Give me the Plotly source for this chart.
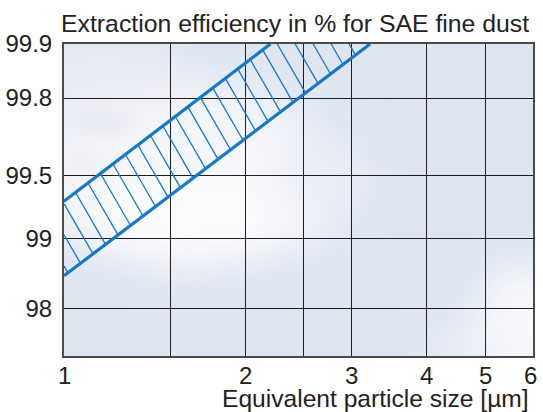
import base64
from statistics import NormalDist
import numpy as np
import plotly.graph_objects as go

# Efficiency band for SAE fine dust (particle size in µm, efficiency in %)
upper_size = [1.0, 2.2]
upper_eff = [99.33, 99.9]
lower_size = [1.0, 3.22]
lower_eff = [98.54, 99.9]

eff_ticks = [98, 99, 99.5, 99.8, 99.9]
eff_range = [96.9, 99.9]
size_grid = [1, 1.5, 2, 2.5, 3, 4, 5, 6]
size_ticks = [1, 2, 3, 4, 5, 6]

BLUE = "#1878c4"
FONT = "Liberation Sans, Arial, sans-serif"
W, H = 543, 412
M = dict(l=64, r=10, t=44, b=56)

nd = NormalDist()


def probit(p):
    """Probability-paper transform of efficiencies given in percent."""
    return np.array([nd.inv_cdf(v / 100.0) for v in np.atleast_1d(p)])


z_lo, z_hi = probit(eff_range)

# Hatching: lines at a fixed screen angle spanning the band
plot_w = W - M["l"] - M["r"]
plot_h = H - M["t"] - M["b"]
px_u = plot_w / np.log10(size_grid[-1])
px_z = plot_h / (z_hi - z_lo)
theta = np.radians(60)
du, dz = -np.cos(theta) / px_u, np.sin(theta) / px_z

uL = np.log10(lower_size)
zL = probit(lower_eff)
uU = np.log10(upper_size)
zU = probit(upper_eff)
mL = (zL[1] - zL[0]) / (uL[1] - uL[0])
mU = (zU[1] - zU[0]) / (uU[1] - uU[0])

hx, hy = [], []
for u0 in np.arange(4 / px_u, uL[1], 12.5 / px_u):
    z0 = zL[0] + mL * (u0 - uL[0])
    t = (zU[0] + mU * (u0 - uU[0]) - z0) / (dz - mU * du)
    if u0 + t * du < 0:
        t = (0 - u0) / du
    t = min(t, (z_hi - z0) / dz)
    hx += [10 ** u0, 10 ** (u0 + t * du), None]
    hy += [z0, z0 + t * dz, None]

# Soft sky backdrop behind the grid
sky_svg = f"""<svg xmlns='http://www.w3.org/2000/svg' width='{plot_w}' height='{plot_h}'
 viewBox='0 0 {plot_w} {plot_h}' preserveAspectRatio='none'>
<defs><filter id='b' x='-50%' y='-50%' width='200%' height='200%'>
<feGaussianBlur stdDeviation='22'/></filter>
<filter id='s' x='-50%' y='-50%' width='200%' height='200%'>
<feGaussianBlur stdDeviation='10'/></filter></defs>
<rect width='100%' height='100%' fill='#dee5f1'/>
<g filter='url(#b)'>
<ellipse cx='120' cy='130' rx='150' ry='95' fill='#f3f5f9'/>
<ellipse cx='150' cy='170' rx='130' ry='40' fill='#fbfcfd'/>
<ellipse cx='40' cy='30' rx='80' ry='35' fill='#e9ecf3'/>
<ellipse cx='260' cy='135' rx='50' ry='45' fill='#e9edf5'/>
<ellipse cx='460' cy='280' rx='45' ry='60' fill='#f8f9fb'/>
<ellipse cx='400' cy='305' rx='40' ry='20' fill='#eef1f7'/>
</g>
<g filter='url(#s)'>
<ellipse cx='40' cy='80' rx='30' ry='10' fill='#dde1e9' opacity='0.6'/>
<ellipse cx='20' cy='120' rx='25' ry='10' fill='#e4e7ee' opacity='0.6'/>
</g>
</svg>"""
sky_uri = "data:image/svg+xml;base64," + base64.b64encode(sky_svg.encode()).decode()

fig = go.Figure()
fig.add_trace(go.Scatter(x=hx, y=hy, mode="lines",
                         line=dict(color=BLUE, width=1.3),
                         hoverinfo="skip", showlegend=False))
fig.add_trace(go.Scatter(x=upper_size, y=probit(upper_eff), mode="lines",
                         line=dict(color=BLUE, width=3.2), showlegend=False))
fig.add_trace(go.Scatter(x=lower_size, y=probit(lower_eff), mode="lines",
                         line=dict(color=BLUE, width=3.2), showlegend=False))

annotations = [
    dict(text="Extraction efficiency in % for SAE fine dust",
         xref="paper", yref="paper", x=1, y=1,
         xanchor="right", yanchor="bottom", yshift=5, xshift=-2,
         showarrow=False, font=dict(size=24.8)),
    dict(text="Equivalent particle size [µm]",
         xref="paper", yref="paper", x=1, y=0,
         xanchor="right", yanchor="top", yshift=-27, xshift=-2,
         showarrow=False, font=dict(size=24.6)),
]
for v in size_ticks:
    annotations.append(dict(text=str(v), xref="x", yref="paper",
                            x=np.log10(v), y=0, xanchor="center",
                            yanchor="top", yshift=-4,
                            xshift=-3 if v == size_ticks[-1] else 0,
                            showarrow=False))

fig.update_layout(
    width=W, height=H, margin=dict(M, autoexpand=False),
    paper_bgcolor="white", plot_bgcolor="rgba(0,0,0,0)",
    font=dict(family=FONT, size=24, color="#222"),
    showlegend=False,
    annotations=annotations,
    images=[dict(source=sky_uri, xref="paper", yref="paper", x=0, y=1,
                 sizex=1, sizey=1, xanchor="left", yanchor="top",
                 sizing="stretch", layer="below")],
)
fig.update_xaxes(type="log", range=[0, np.log10(size_grid[-1])],
                 tickmode="array", tickvals=size_grid, showticklabels=False,
                 showgrid=True, gridcolor="#1e1e1e", gridwidth=1.1,
                 showline=True, mirror=True, linecolor="#4a4a4a", linewidth=2,
                 ticks="", automargin=False, zeroline=False)
fig.update_yaxes(range=[z_lo, z_hi],
                 tickmode="array", tickvals=probit(eff_ticks),
                 ticktext=[str(v) for v in eff_ticks],
                 showgrid=True, gridcolor="#1e1e1e", gridwidth=1.1,
                 showline=True, mirror=True, linecolor="#4a4a4a", linewidth=2,
                 ticks="", ticklabelstandoff=5, automargin=False,
                 zeroline=False)

fig.write_html("out.html")
